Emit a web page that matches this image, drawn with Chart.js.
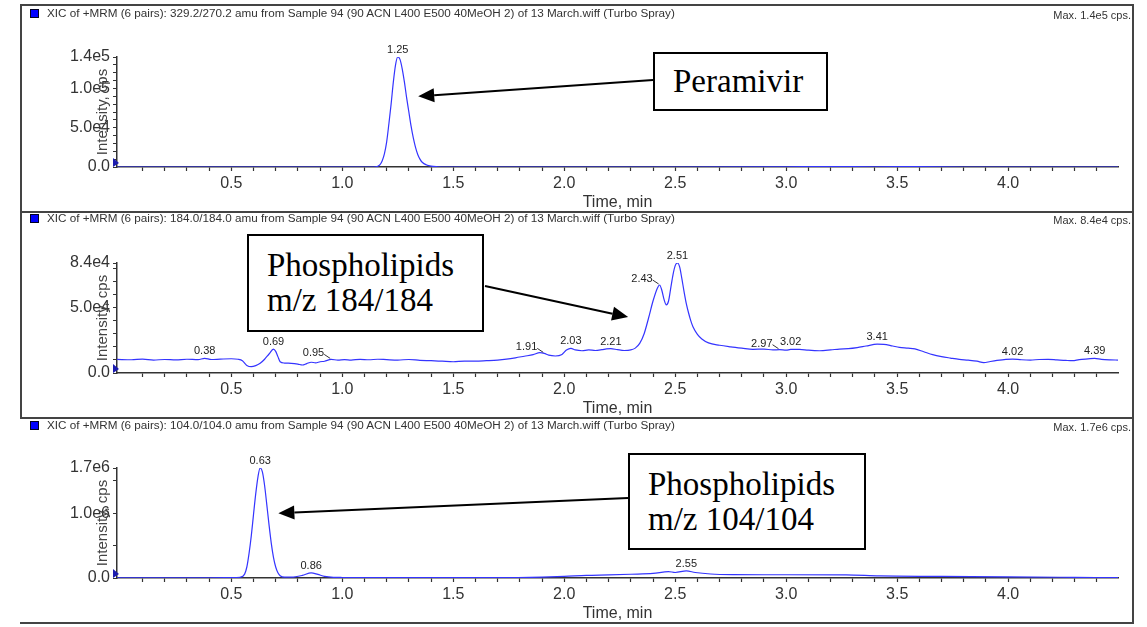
<!DOCTYPE html>
<html>
<head>
<meta charset="utf-8">
<title>XIC chromatograms</title>
<script src="https://cdn.jsdelivr.net/npm/chart.js@4.4.1/dist/chart.umd.min.js"></script>
<style>
  body { margin: 0; background: #fff; }
  #page { position: relative; width: 1147px; height: 627px; overflow: hidden; font-family: 'Liberation Sans', Arial, sans-serif; }
  canvas { position: absolute; left: 0; }
  .rule { position: absolute; background: #444; }
  .hdr { position: absolute; left: 30px; font-size: 11.7px; line-height: 12px; color: #333; white-space: nowrap; }
  .hdr .sq { display: inline-block; width: 7px; height: 7px; background: #0000ff; border: 1px solid #002; margin-right: 8px; vertical-align: -1px; }
  .maxcps { position: absolute; right: 16px; font-size: 11px; line-height: 12px; color: #333; }
  .note { position: absolute; box-sizing: border-box; border: 2px solid #000; background: #fff; padding-left: 18px;
          display: flex; flex-direction: column; justify-content: center;
          font-family: 'Liberation Serif', 'Times New Roman', serif; font-size: 33px; line-height: 35px; color: #000; }
</style>
</head>
<body>
<div id="page">
  <canvas id="chart1" width="1147" height="207" style="top:5px"></canvas>
  <canvas id="chart2" width="1147" height="206" style="top:212px"></canvas>
  <canvas id="chart3" width="1147" height="205" style="top:418px"></canvas>

  <div class="rule" style="left:20px;top:4px;width:1114px;height:2px"></div>
  <div class="rule" style="left:20px;top:211px;width:1114px;height:2px"></div>
  <div class="rule" style="left:20px;top:417px;width:1114px;height:2px"></div>
  <div class="rule" style="left:20px;top:622px;width:1114px;height:2px"></div>
  <div class="rule" style="left:20px;top:4px;width:2px;height:415px"></div>
  <div class="rule" style="left:1132px;top:4px;width:2px;height:620px"></div>

  <div class="hdr" style="top:7px"><span class="sq"></span>XIC of +MRM (6 pairs): 329.2/270.2 amu from Sample 94 (90 ACN L400 E500 40MeOH 2) of 13 March.wiff (Turbo Spray)</div>
  <div class="maxcps" style="top:9px">Max. 1.4e5 cps.</div>
  <div class="hdr" style="top:212px"><span class="sq"></span>XIC of +MRM (6 pairs): 184.0/184.0 amu from Sample 94 (90 ACN L400 E500 40MeOH 2) of 13 March.wiff (Turbo Spray)</div>
  <div class="maxcps" style="top:214px">Max. 8.4e4 cps.</div>
  <div class="hdr" style="top:419px"><span class="sq"></span>XIC of +MRM (6 pairs): 104.0/104.0 amu from Sample 94 (90 ACN L400 E500 40MeOH 2) of 13 March.wiff (Turbo Spray)</div>
  <div class="maxcps" style="top:421px">Max. 1.7e6 cps.</div>

  <div class="note" style="left:653px;top:52px;width:175px;height:59px">Peramivir</div>
  <div class="note" style="left:247px;top:234px;width:237px;height:98px">Phospholipids<br>m/z 184/184</div>
  <div class="note" style="left:628px;top:453px;width:238px;height:97px">Phospholipids<br>m/z 104/104</div>
</div>

<script>
// time axis (min)
const X_MIN = -0.015;
const X_MAX = 4.495;
const xMajor = [0.5, 1.0, 1.5, 2.0, 2.5, 3.0, 3.5, 4.0];
const xTicks = [];
for (let i = 1; i <= 44; i++) xTicks.push(i / 10);

// 329.2/270.2 (Peramivir)
const p1Times = [-0.015, 0.2, 0.5, 0.8, 1.0, 1.10, 1.14, 1.16, 1.17, 1.18,
  1.19, 1.20, 1.21, 1.22, 1.23, 1.24, 1.25, 1.26, 1.27, 1.28,
  1.29, 1.30, 1.31, 1.32, 1.33, 1.34, 1.35, 1.36, 1.38, 1.40,
  1.43, 1.46, 1.6, 2.0, 2.5, 3.0, 3.2, 3.4, 3.6, 3.8,
  4.0, 4.3, 4.495];
const p1Values = [0, 0, 0, 0, 0, 0, 0, 1000, 3000, 8000,
  17000, 32000, 55000, 80000, 108000, 130000, 140000, 137000, 125000, 108000,
  88000, 70000, 52000, 37000, 25000, 16000, 10000, 6000, 2500, 1000,
  300, 0, 0, 0, 0, 300, 500, 300, 500, 0,
  0, 0, 0];
const p1YTicks = [0, 10000, 20000, 30000, 40000, 50000, 60000, 70000, 80000, 90000, 100000, 110000, 120000, 130000, 140000];
const p1YLabels = [0, 50000, 100000, 140000];
const p1Peaks = ['1.25'];

// 184.0/184.0 (phospholipids)
const p2Times = [-0.015, 0.05, 0.10, 0.15, 0.20, 0.25, 0.30, 0.35, 0.38, 0.41,
  0.45, 0.50, 0.53, 0.55, 0.57, 0.59, 0.61, 0.63, 0.65, 0.67,
  0.69, 0.70, 0.71, 0.72, 0.74, 0.77, 0.80, 0.82, 0.84, 0.86,
  0.88, 0.90, 0.92, 0.95, 0.98, 1.01, 1.04, 1.08, 1.12, 1.16,
  1.20, 1.25, 1.30, 1.35, 1.40, 1.45, 1.50, 1.55, 1.60, 1.65,
  1.70, 1.74, 1.78, 1.82, 1.86, 1.89, 1.91, 1.93, 1.96, 1.99,
  2.01, 2.03, 2.05, 2.08, 2.11, 2.14, 2.17, 2.19, 2.21, 2.24,
  2.27, 2.30, 2.32, 2.34, 2.36, 2.38, 2.40, 2.42, 2.43, 2.44,
  2.45, 2.46, 2.47, 2.48, 2.49, 2.50, 2.51, 2.52, 2.53, 2.54,
  2.55, 2.56, 2.57, 2.58, 2.60, 2.62, 2.65, 2.70, 2.75, 2.80,
  2.85, 2.90, 2.94, 2.97, 3.00, 3.02, 3.06, 3.10, 3.15, 3.20,
  3.24, 3.28, 3.32, 3.36, 3.41, 3.44, 3.48, 3.51, 3.55, 3.58,
  3.62, 3.66, 3.70, 3.74, 3.78, 3.82, 3.86, 3.89, 3.92, 3.95,
  3.99, 4.02, 4.06, 4.10, 4.14, 4.18, 4.22, 4.26, 4.29, 4.32,
  4.36, 4.39, 4.42, 4.46, 4.495];
const p2Values = [10400, 10100, 10600, 9900, 10300, 10000, 10500, 10200, 11200, 10300,
  10600, 10900, 10500, 9400, 5800, 4800, 5600, 7400, 10500, 14500,
  18200, 16500, 12500, 8600, 7600, 7400, 6800, 6100, 7200, 8200,
  7800, 8600, 9000, 10400, 9800, 10200, 9900, 10400, 10100, 10500,
  10200, 9900, 10300, 9700, 9400, 9000, 8600, 9100, 9000, 9400,
  9900, 10600, 11600, 12800, 14000, 15500, 15000, 13600, 13000, 14200,
  17500, 18800, 17600, 17000, 17600, 17200, 17800, 18400, 18600, 17800,
  17200, 17600, 19000, 22600, 30000, 42000, 55000, 65000, 67200, 63000,
  56000, 52000, 55000, 65000, 75000, 82000, 84000, 81000, 72000, 62000,
  53000, 46000, 40000, 35300, 29500, 26000, 23000, 21200, 20000, 19000,
  18100, 18300, 17600, 17800, 17400, 18000, 18100, 17400, 17000, 17600,
  18300, 18600, 19400, 20600, 22000, 21900, 20600, 19600, 19000, 18400,
  16200, 14000, 12500, 11400, 10400, 9800, 9000, 7900, 8800, 9600,
  10400, 10600, 10100, 9900, 10300, 10400, 10000, 9600, 9400, 10200,
  10800, 11200, 10400, 10000, 9900];
const p2YTicks = [0, 10000, 20000, 30000, 40000, 50000, 60000, 70000, 80000, 84000];
const p2YLabels = [0, 50000, 84000];
const p2Peaks = ['0.38', '0.69', '0.95', '1.91', '2.03', '2.21', '2.43', '2.51', '2.97', '3.02', '3.41', '4.02', '4.39'];

// 104.0/104.0 (phospholipids)
const p3Times = [-0.015, 0.2, 0.4, 0.50, 0.54, 0.56, 0.57, 0.58, 0.59, 0.60,
  0.61, 0.62, 0.63, 0.64, 0.65, 0.66, 0.67, 0.68, 0.69, 0.70,
  0.71, 0.72, 0.74, 0.78, 0.82, 0.86, 0.89, 0.92, 0.96, 1.0,
  1.3, 1.7, 1.9, 2.0, 2.1, 2.2, 2.3, 2.4, 2.47, 2.50,
  2.55, 2.59, 2.66, 2.76, 2.9, 3.0, 3.27, 3.42, 3.7, 4.0,
  4.3, 4.495];
const p3Values = [3000, 3000, 4000, 5000, 12000, 60000, 170000, 380000, 650000, 980000,
  1300000, 1560000, 1700000, 1640000, 1430000, 1130000, 820000, 540000, 320000, 170000,
  80000, 35000, 12000, 15000, 40000, 80000, 55000, 25000, 10000, 8000,
  5000, 6000, 15000, 25000, 40000, 48000, 58000, 70000, 100000, 85000,
  110000, 85000, 62000, 52000, 50000, 50000, 48000, 32000, 25000, 16000,
  10000, 6000];
const p3YTicks = [0, 500000, 1000000, 1500000, 1700000];
const p3YLabels = [0, 1000000, 1700000];
const p3Peaks = ['0.63', '0.86', '2.55'];

// labels drawn left of their point with a short leader
const leaderLabels = ['0.95', '1.91', '2.43', '2.97'];

const LABEL_FONT = { size: 16, family: "'Liberation Sans', Arial, sans-serif" };

function sciLabel(v) {
  if (v === 0) return '0.0';
  return v.toExponential(1).replace('e+', 'e');
}

const chromDecor = {
  id: 'chromDecor',
  afterDraw(chart, args, opts) {
    const { ctx, chartArea } = chart;
    const xs = chart.scales.x, ys = chart.scales.y;
    const pts = chart.data.datasets[0].data;
    ctx.save();

    // y axis title (overlaps the tick labels, as in the instrument export)
    ctx.save();
    ctx.translate(chartArea.left - 14, (chartArea.top + chartArea.bottom) / 2);
    ctx.rotate(-Math.PI / 2);
    ctx.font = "15px 'Liberation Sans', Arial, sans-serif";
    ctx.fillStyle = '#444';
    ctx.textAlign = 'center';
    ctx.textBaseline = 'middle';
    ctx.fillText('Intensity, cps', 0, 0);
    ctx.restore();

    // origin marker
    ctx.fillStyle = '#1c1cb0';
    ctx.beginPath();
    ctx.moveTo(chartArea.left - 4, chartArea.bottom - 9);
    ctx.lineTo(chartArea.left + 2, chartArea.bottom - 4);
    ctx.lineTo(chartArea.left - 4, chartArea.bottom);
    ctx.closePath();
    ctx.fill();

    // peak labels
    ctx.font = "11px 'Liberation Sans', Arial, sans-serif";
    ctx.fillStyle = '#222';
    ctx.strokeStyle = '#333';
    ctx.lineWidth = 1;
    ctx.textBaseline = 'alphabetic';
    opts.peaks.forEach(label => {
      const t = parseFloat(label);
      let top = 0;
      pts.forEach(p => { if (Math.abs(p.x - t) <= 0.015 && p.y > top) top = p.y; });
      const px = xs.getPixelForValue(t);
      const py = ys.getPixelForValue(top);
      if (leaderLabels.includes(label)) {
        ctx.textAlign = 'right';
        ctx.fillText(label, px - 7, py - 3);
        ctx.beginPath();
        ctx.moveTo(px - 7, py - 5);
        ctx.lineTo(px - 1, py - 1);
        ctx.stroke();
      } else {
        ctx.textAlign = 'center';
        ctx.fillText(label, px, py - 4);
      }
    });

    // annotation arrow: from the note box to the peak
    const a = opts.arrow;
    const fx = a.from[0], fy = a.from[1];
    const tx = xs.getPixelForValue(a.tip[0]), ty = ys.getPixelForValue(a.tip[1]);
    const ang = Math.atan2(ty - fy, tx - fx);
    const head = 16, half = 7;
    const bx = tx - head * Math.cos(ang), by = ty - head * Math.sin(ang);
    ctx.strokeStyle = '#000';
    ctx.fillStyle = '#000';
    ctx.lineWidth = 2;
    ctx.beginPath();
    ctx.moveTo(fx, fy);
    ctx.lineTo(bx, by);
    ctx.stroke();
    ctx.beginPath();
    ctx.moveTo(tx, ty);
    ctx.lineTo(bx + half * Math.sin(ang), by - half * Math.cos(ang));
    ctx.lineTo(bx - half * Math.sin(ang), by + half * Math.cos(ang));
    ctx.closePath();
    ctx.fill();

    ctx.restore();
  }
};

function buildChart(id, cfg) {
  const points = cfg.times.map((t, i) => ({ x: t, y: cfg.values[i] }));
  return new Chart(document.getElementById(id), {
    type: 'line',
    data: {
      datasets: [{
        data: points,
        borderColor: '#3434ff',
        borderWidth: 1.2,
        pointRadius: 0,
        cubicInterpolationMode: 'monotone',
        fill: false
      }]
    },
    options: {
      responsive: false,
      animation: false,
      events: [],
      layout: { padding: { top: cfg.padTop, right: 29, bottom: 0, left: 0 } },
      plugins: {
        legend: { display: false },
        tooltip: { enabled: false },
        chromDecor: { peaks: cfg.peaks, arrow: cfg.arrow }
      },
      scales: {
        x: {
          type: 'linear',
          min: X_MIN,
          max: X_MAX,
          afterBuildTicks: s => { s.ticks = xTicks.map(v => ({ value: v })); },
          afterFit: s => { s.height = 45; },
          ticks: {
            autoSkip: false,
            maxRotation: 0,
            padding: 3,
            color: '#333',
            font: LABEL_FONT,
            callback: v => xMajor.some(m => Math.abs(m - v) < 1e-6) ? v.toFixed(1) : ''
          },
          grid: { drawOnChartArea: false, drawTicks: true, tickLength: 4, tickColor: '#333', tickWidth: 1.2 },
          border: { display: true, color: '#333', width: 1.5 },
          title: { display: true, text: 'Time, min', color: '#333', font: LABEL_FONT, padding: { top: 0, bottom: 0 } }
        },
        y: {
          type: 'linear',
          min: 0,
          max: cfg.yTicks[cfg.yTicks.length - 1],
          afterBuildTicks: s => { s.ticks = cfg.yTicks.map(v => ({ value: v })); },
          afterFit: s => { s.width = 117; },
          ticks: {
            autoSkip: false,
            padding: 3,
            color: '#333',
            font: LABEL_FONT,
            callback: v => cfg.yLabels.includes(v) ? sciLabel(v) : ''
          },
          grid: { drawOnChartArea: false, drawTicks: true, tickLength: 4, tickColor: '#333', tickWidth: 1 },
          border: { display: true, color: '#333', width: 1.5 }
        }
      }
    },
    plugins: [chromDecor]
  });
}

document.addEventListener('DOMContentLoaded', () => {
  buildChart('chart1', {
    times: p1Times, values: p1Values, yTicks: p1YTicks, yLabels: p1YLabels,
    peaks: p1Peaks, padTop: 52,
    arrow: { from: [653, 75], tip: [1.342, 90000] }
  });
  buildChart('chart2', {
    times: p2Times, values: p2Values, yTicks: p2YTicks, yLabels: p2YLabels,
    peaks: p2Peaks, padTop: 51,
    arrow: { from: [485, 74], tip: [2.288, 42700] }
  });
  buildChart('chart3', {
    times: p3Times, values: p3Values, yTicks: p3YTicks, yLabels: p3YLabels,
    peaks: p3Peaks, padTop: 50,
    arrow: { from: [628, 80], tip: [0.712, 1000000] }
  });
});
</script>
</body>
</html>
